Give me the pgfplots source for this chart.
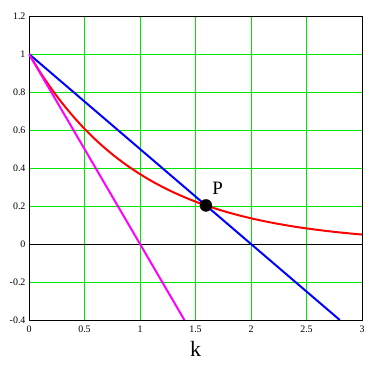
\documentclass[border=0pt]{standalone}
\usepackage{fontspec}
\setmainfont{Liberation Serif}
\usepackage{pgfplots}
\pgfplotsset{compat=1.18}
\definecolor{gridg}{RGB}{0,230,0}
\definecolor{mag}{RGB}{255,0,255}
\definecolor{rd}{RGB}{255,0,0}
\definecolor{bl}{RGB}{0,0,255}
\begin{document}
\begin{tikzpicture}[x=1bp,y=1bp]
\useasboundingbox (-29bp,-51bp) rectangle (346bp,320bp);
\begin{axis}[
  at={(0,0)}, anchor=south west,
  scale only axis, width=333bp, height=304bp,
  xmin=0, xmax=3, ymin=-0.4, ymax=1.2,
  xtick={0,0.5,...,3}, ytick={-0.4,-0.2,0,0.2,0.4,0.6,0.8,1,1.2},
  yticklabels={-0.4,-0.2,0,0.2,0.4,0.6,0.8,1,1.2},
  xticklabels={0,0.5,1,1.5,2,2.5,3},
  major tick length=0pt,
  tick label style={font=\fontsize{10}{11}\selectfont},
  xticklabel style={yshift=-2bp},
  grid=major, major grid style={draw=gridg, line width=0.9pt},
  axis line style={black, line width=0.8pt},
  xlabel={k}, xlabel style={font=\fontsize{22}{24}\selectfont, yshift=-2bp},
  clip=true,
]
\addplot[black, line width=0.8pt] coordinates {(0,0) (3,0)};
\addplot[rd, line width=2pt, smooth] coordinates {
(0,1) (0.1,0.9048) (0.2,0.8187) (0.3,0.7408) (0.4,0.6703) (0.5,0.6065)
(0.6,0.5488) (0.7,0.4966) (0.8,0.4493) (0.9,0.4066) (1.0,0.3679)
(1.1,0.3329) (1.2,0.3012) (1.3,0.2725) (1.4,0.2466) (1.5,0.2231)
(1.6,0.2019) (1.7,0.1827) (1.8,0.1653) (1.9,0.1496) (2.0,0.1353)
(2.1,0.1225) (2.2,0.1108) (2.3,0.1003) (2.4,0.0907) (2.5,0.0821)
(2.6,0.0743) (2.7,0.0672) (2.8,0.0608) (2.9,0.0550) (3.0,0.0498)};
\addplot[bl, line width=2pt] coordinates {(0,1) (2.8,-0.4)};
\addplot[mag, line width=2pt] coordinates {(0,1) (1.4,-0.4)};
\addplot[only marks, mark=*, mark size=6bp, mark options={fill=black, draw=black},
  nodes near coords={P}, every node near coord/.style={font=\fontsize{19}{21}\selectfont, anchor=south west, xshift=3bp, yshift=7bp}]
  coordinates {(1.594,0.203)};
\end{axis}
\end{tikzpicture}
\end{document}
